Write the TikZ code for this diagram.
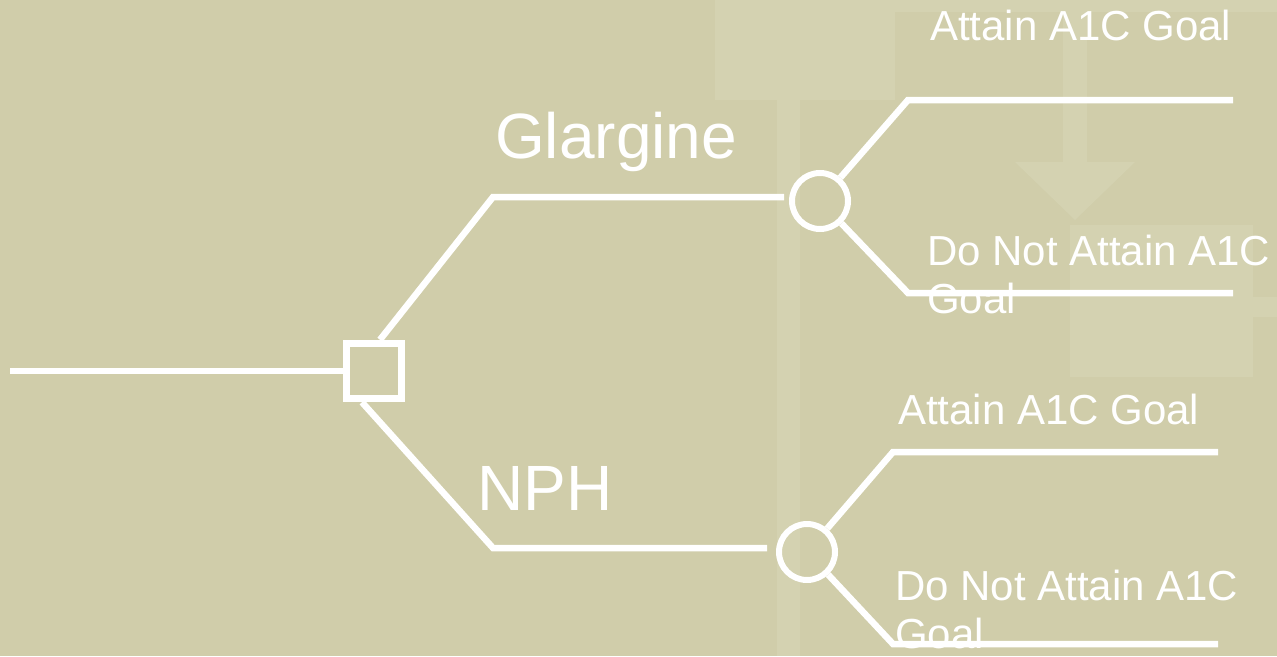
\documentclass[tikz,border=0pt]{standalone}
\usepackage{fontspec}
\setmainfont{Liberation Sans}
\definecolor{bg}{RGB}{208,205,170}
\definecolor{wm}{RGB}{212,210,177}
\tikzset{
  branch/.style={draw=white, line width=6.5pt},
  decision/.style={rectangle, draw=white, line width=7.5pt, minimum size=55pt, inner sep=0pt},
  chance/.style={circle, draw=white, line width=6pt, minimum size=56pt, inner sep=0pt},
  armlabel/.style={text=white, font=\fontsize{64}{70}\selectfont, inner sep=0pt, anchor=base west},
  outlabel/.style={text=white, font=\fontsize{42}{48}\selectfont, inner sep=0pt, anchor=base west, align=left},
}
\begin{document}
\begin{tikzpicture}[x=1pt, y=-1pt]
  % canvas
  \fill[bg] (0,0) rectangle (1277,656);
  \useasboundingbox (0,0) rectangle (1277,656);

  % faint flowchart backdrop
  \fill[wm] (715,0) rectangle (895,100);
  \fill[wm] (777,100) rectangle (800,656);
  \fill[wm] (895,0) rectangle (1277,12);
  \fill[wm] (1063,12) rectangle (1087,163);
  \fill[wm] (1015,162) -- (1135,162) -- (1075,220) -- cycle;
  \fill[wm] (1070,225) rectangle (1253,377);
  \fill[wm] (1253,297) rectangle (1277,317);

  % decision and chance nodes
  \node[decision] (dec) at (374,371) {};
  \node[chance] (c1) at (820,201) {};
  \node[chance] (c2) at (807,552) {};

  % branch corners and outcome ends
  \coordinate (root) at (10,371);
  \coordinate (g1) at (493,197);
  \coordinate (n1) at (493,548);
  \coordinate (o1) at (908,100);
  \coordinate (e1) at (1233,100);
  \coordinate (o2) at (908,293);
  \coordinate (e2) at (1233,293);
  \coordinate (o3) at (893,452);
  \coordinate (e3) at (1218,452);
  \coordinate (o4) at (893,644);
  \coordinate (e4) at (1218,644);

  % connectors
  \draw[branch] (root) -- (dec.west);
  \draw[branch] ([xshift=6pt]dec.north) -- (g1) -- ([xshift=-5pt]c1.west |- g1);
  \draw[branch] ([xshift=-12pt]dec.south) -- (n1) -- ([xshift=-9pt]c2.west |- n1);
  \draw[branch] (c1) -- (o1) -- (e1);
  \draw[branch] (c1) -- (o2) -- (e2);
  \draw[branch] (c2) -- (o3) -- (e3);
  \draw[branch] (c2) -- (o4) -- (e4);

  % labels (multi-line labels sit on the baseline of their last line)
  \node[armlabel] (lg) at (495,158) {Glargine};
  \node[armlabel] (ln) at (477,510) {NPH};
  \node[outlabel] (l1) at (930,40) {Attain A1C Goal};
  \node[outlabel] (l2) at (927,313) {Do Not Attain A1C\\Goal};
  \node[outlabel] (l3) at (898,424) {Attain A1C Goal};
  \node[outlabel] (l4) at (895,648) {Do Not Attain A1C\\Goal};
\end{tikzpicture}
\end{document}
